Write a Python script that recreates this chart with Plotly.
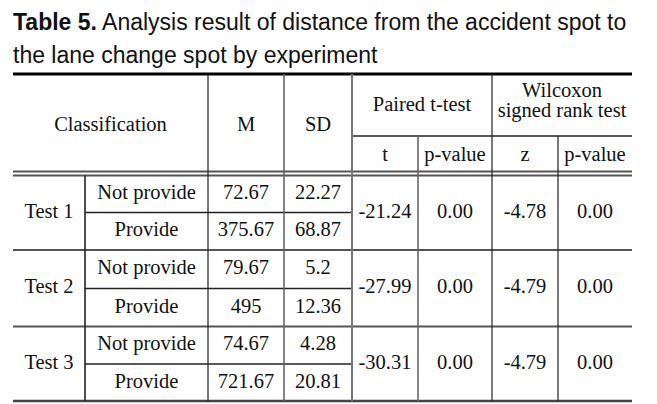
import plotly.graph_objects as go

# ---------------- data ----------------
title_bold = "Table 5."
title_line1 = "Analysis result of distance from the accident spot to"
title_line2 = "the lane change spot by experiment"

tests = ["Test 1", "Test 2", "Test 3"]
conditions = ["Not provide", "Provide"]
M_values = [72.67, 375.67, 79.67, 495, 74.67, 721.67]
SD_values = [22.27, 68.87, 5.2, 12.36, 4.28, 20.81]
t_values = [-21.24, -27.99, -30.31]
p_t_values = [0.00, 0.00, 0.00]
z_values = [-4.78, -4.79, -4.79]
p_z_values = [0.00, 0.00, 0.00]

header_main = ["Classification", "M", "SD"]
header_groups = ["Paired t-test", ["Wilcoxon", "signed rank test"]]
header_sub = ["t", "p-value", "z", "p-value"]

# ---------------- layout geometry (pixels) ----------------
W, H = 657, 404
col_edges = [13, 85, 208, 284, 352, 418, 492, 558, 632]
top_rule = 74
head_mid = 136
head_bot = 172
row_edges = [175.5, 212.5, 250, 288.5, 326.5, 364, 401]

def cx(i, j=None):
    j = i + 1 if j is None else j
    return (col_edges[i] + col_edges[j]) / 2

def ry(i, j=None):
    j = i + 1 if j is None else j
    return (row_edges[i] + row_edges[j]) / 2

SERIF = "Liberation Serif, Times New Roman, serif"
SANS = "Liberation Sans Narrow, Arial Narrow, Liberation Sans, Arial, sans-serif"
FS = 20.5

xs, ys, txt = [], [], []

def put(x, y, s):
    xs.append(x); ys.append(y); txt.append(s)

# header
put(cx(0, 2), (top_rule + head_bot) / 2 + 3, header_main[0])
put(cx(2), (top_rule + head_bot) / 2 + 3, header_main[1])
put(cx(3), (top_rule + head_bot) / 2 + 3, header_main[2])
put(cx(4, 6), (top_rule + head_mid) / 2 + 1, header_groups[0])
put(cx(6, 8), 92, header_groups[1][0])
put(cx(6, 8), 112, header_groups[1][1])
for k, s in enumerate(header_sub):
    put(cx(4 + k), (head_mid + head_bot) / 2 + 1.5, s)

# body
for g, tname in enumerate(tests):
    put(cx(0), ry(2 * g, 2 * g + 2), tname)
    for c, cname in enumerate(conditions):
        r = 2 * g + c
        put(cx(1), ry(r), cname)
        put(cx(2), ry(r), f"{M_values[r]:g}")
        put(cx(3), ry(r), f"{SD_values[r]:g}")
    yy = ry(2 * g, 2 * g + 2)
    put(cx(4), yy, f"{t_values[g]:.2f}")
    put(cx(5), yy, f"{p_t_values[g]:.2f}")
    put(cx(6), yy, f"{z_values[g]:.2f}")
    put(cx(7), yy, f"{p_z_values[g]:.2f}")

fig = go.Figure()
fig.add_trace(go.Scatter(
    x=xs, y=ys, text=txt, mode="text", textposition="middle center",
    textfont=dict(family=SERIF, size=FS, color="#111"),
    hoverinfo="skip", showlegend=False,
))

shapes = []

def hline(y, x0, x1, color, width):
    shapes.append(dict(type="line", xref="x", yref="y", x0=x0, x1=x1, y0=y, y1=y,
                       line=dict(color=color, width=width)))

def vline(x, y0, y1, color, width):
    shapes.append(dict(type="line", xref="x", yref="y", x0=x, x1=x, y0=y0, y1=y1,
                       line=dict(color=color, width=width)))

L, R = col_edges[0], col_edges[-1]
# rules
hline(top_rule, L, R, "#000", 3)
hline(head_mid, col_edges[4], R, "#222", 1.3)
hline(head_bot - 0.5, L, R, "#555", 1.8)
hline(head_bot + 3.5, L, R, "#555", 1.8)
hline(row_edges[-1], L, R, "#444", 2.6)
# group dividers
for g in (2, 4):
    hline(row_edges[g], L, R, "#555", 1.8)
# sub-row dividers
for r in (1, 3, 5):
    hline(row_edges[r], col_edges[1], col_edges[4], "#222", 1.3)
# verticals
vline(col_edges[1], head_bot + 3.5, row_edges[-1], "#222", 1.6)
vline(col_edges[2], top_rule, row_edges[-1], "#222", 1.2)
vline(col_edges[3], top_rule, row_edges[-1], "#666", 1.6)
vline(col_edges[4], top_rule, row_edges[-1], "#777", 2)
vline(col_edges[5], head_mid, row_edges[-1], "#666", 1.6)
vline(col_edges[6], top_rule, row_edges[-1], "#222", 1.2)
vline(col_edges[7], head_mid, row_edges[-1], "#222", 1.2)

annotations = [
    dict(x=11, y=22, xref="x", yref="y", xanchor="left", yanchor="middle",
         text=f"<b>{title_bold}</b> {title_line1}", showarrow=False,
         font=dict(family=SANS, size=23, color="#111")),
    dict(x=11, y=55, xref="x", yref="y", xanchor="left", yanchor="middle",
         text=title_line2, showarrow=False,
         font=dict(family=SANS, size=23, color="#111")),
]

fig.update_layout(
    width=W, height=H,
    margin=dict(l=0, r=0, t=0, b=0),
    paper_bgcolor="white", plot_bgcolor="white",
    xaxis=dict(range=[0, W], visible=False, fixedrange=True),
    yaxis=dict(range=[H, 0], visible=False, fixedrange=True),
    shapes=shapes, annotations=annotations,
)

fig.write_html(
    "out.html",
    config=dict(displayModeBar=False, staticPlot=True),
    post_script="document.body.style.margin='0';document.body.style.overflow='hidden';",
)
